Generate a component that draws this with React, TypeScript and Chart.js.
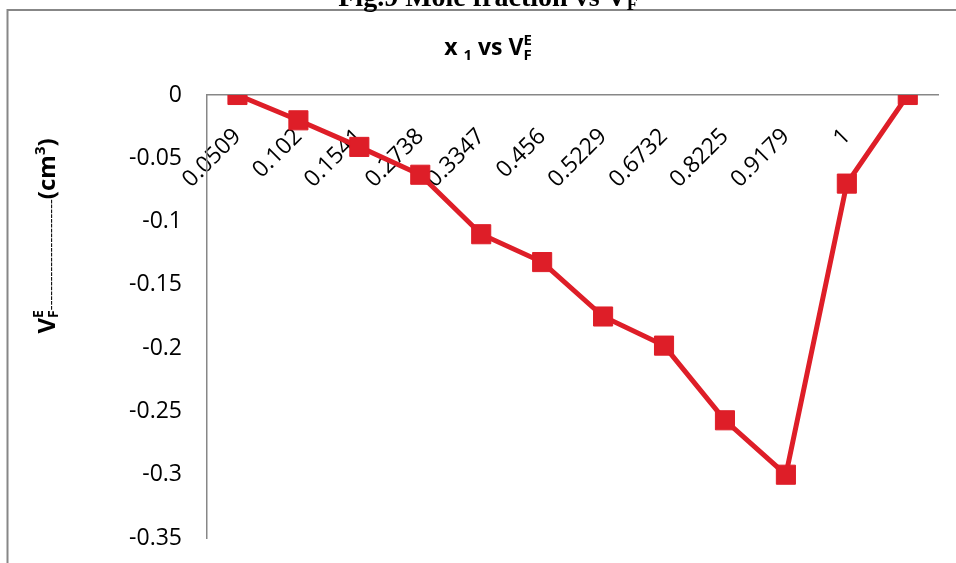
import React, { useEffect, useRef } from 'react';
import { Chart, registerables } from 'chart.js';

Chart.register(...registerables);

const categories = ['0.0509', '0.102', '0.1541', '0.2738', '0.3347', '0.456', '0.5229', '0.6732', '0.8225', '0.9179', '1', ''];
const vfeValues = [0, -0.02, -0.041, -0.063, -0.11, -0.132, -0.175, -0.198, -0.257, -0.3, -0.07, 0];
const yMin = -0.35;
const yMax = 0;
const yStep = 0.05;

const SANS = '"Open Sans", "Noto Sans", sans-serif';
const SERIF = '"Liberation Serif", "DejaVu Serif", serif';
const RED = '#DE1E28';
const GRAY = '#878787';

type Part = { text: string; size: number; dy: number; family: string; weight: string; stack?: boolean };

function drawRich(ctx: CanvasRenderingContext2D, parts: Part[], cx: number, baseline: number) {
  const widths = parts.map((p) => {
    ctx.font = `${p.weight} ${p.size}px ${p.family}`;
    return ctx.measureText(p.text).width;
  });
  let total = 0;
  parts.forEach((p, i) => {
    if (p.stack && i > 0) {
      total += Math.max(0, widths[i] - widths[i - 1]);
    } else {
      total += widths[i];
    }
  });
  let x = cx - total / 2;
  let prevX = x;
  ctx.textAlign = 'left';
  ctx.textBaseline = 'alphabetic';
  parts.forEach((p, i) => {
    ctx.font = `${p.weight} ${p.size}px ${p.family}`;
    if (p.stack && i > 0) {
      ctx.fillText(p.text, prevX, baseline + p.dy);
      x = prevX + Math.max(widths[i], widths[i - 1]);
    } else {
      ctx.fillText(p.text, x, baseline + p.dy);
      prevX = x;
      x += widths[i];
    }
  });
}

const textPlugin = {
  id: 'richText',
  beforeDraw(chart: any) {
    const ctx = chart.ctx as CanvasRenderingContext2D;
    ctx.save();
    ctx.strokeStyle = GRAY;
    ctx.lineWidth = 2;
    ctx.beginPath();
    ctx.moveTo(7.5, 563);
    ctx.lineTo(7.5, 10);
    ctx.lineTo(956, 10);
    ctx.stroke();
    ctx.restore();
  },
  afterDraw(chart: any) {
    const ctx = chart.ctx as CanvasRenderingContext2D;
    ctx.save();
    ctx.fillStyle = '#000';
    // cropped figure caption
    drawRich(
      ctx,
      [
        { text: 'Fig.9 Mole fraction vs V', size: 28, dy: 0, family: SERIF, weight: 'bold' },
        { text: 'F', size: 18, dy: 4, family: SERIF, weight: 'bold' },
      ],
      488,
      6
    );
    // chart title
    drawRich(
      ctx,
      [
        { text: 'x ', size: 23, dy: 0, family: SANS, weight: 'bold' },
        { text: '1', size: 15, dy: 5, family: SANS, weight: 'bold' },
        { text: ' vs V', size: 23, dy: 0, family: SANS, weight: 'bold' },
        { text: 'F', size: 15, dy: 5, family: SANS, weight: 'bold' },
        { text: 'E', size: 15, dy: -10, family: SANS, weight: 'bold', stack: true },
      ],
      488,
      55
    );
    // y axis title
    ctx.translate(55, 236);
    ctx.rotate(-Math.PI / 2);
    drawRich(
      ctx,
      [
        { text: 'V', size: 24, dy: 0, family: SANS, weight: 'bold' },
        { text: 'F', size: 14, dy: 3, family: SANS, weight: 'bold' },
        { text: 'E', size: 14, dy: -12, family: SANS, weight: 'bold', stack: true },
        { text: '-----------------------', size: 15, dy: 1, family: SANS, weight: 'normal' },
        { text: '(cm', size: 24, dy: 0, family: SANS, weight: 'bold' },
        { text: '3', size: 15, dy: -10, family: SANS, weight: 'bold' },
        { text: ')', size: 24, dy: 0, family: SANS, weight: 'bold' },
      ],
      0,
      0
    );
    ctx.restore();
  },
};

export default function App() {
  const ref = useRef<HTMLCanvasElement | null>(null);

  useEffect(() => {
    if (!ref.current) return;
    const chart = new Chart(ref.current, {
      type: 'line',
      data: {
        labels: categories,
        datasets: [
          {
            data: vfeValues,
            borderColor: RED,
            backgroundColor: RED,
            borderWidth: 5,
            pointStyle: 'rect',
            pointRadius: 13.5,
            pointBorderWidth: 1,
            pointBackgroundColor: RED,
            pointBorderColor: RED,
            tension: 0,
          },
        ],
      },
      options: {
        animation: false,
        responsive: false,
        maintainAspectRatio: false,
        layout: { padding: { left: 0, top: 95, right: 17, bottom: 25 } },
        plugins: {
          legend: { display: false },
          title: { display: false },
          tooltip: { enabled: false },
        },
        scales: {
          x: {
            type: 'category',
            position: { y: 0 } as any,
            offset: true,
            grid: { display: false, drawTicks: false },
            border: { display: true, color: GRAY, width: 1.5 },
            ticks: {
              autoSkip: false,
              minRotation: 45,
              maxRotation: 45,
              padding: 28,
              color: '#000',
              font: { family: SANS, size: 23 },
            },
            afterFit: (s: any) => {
              s.paddingTop = 0;
              s.paddingBottom = 0;
            },
          },
          y: {
            min: yMin,
            max: yMax,
            grid: { display: false, drawTicks: false },
            border: { display: true, color: GRAY, width: 1.5 },
            ticks: {
              stepSize: yStep,
              padding: 25,
              color: '#000',
              font: { family: SANS, size: 23 },
              callback: (v: any) => String(Math.round(Number(v) * 100) / 100),
            },
            afterFit: (s: any) => {
              s.width = 207;
              s.paddingTop = 0;
              s.paddingBottom = 0;
            },
          },
        },
      },
      plugins: [textPlugin],
    });
    return () => chart.destroy();
  }, []);

  return (
    <div style={{ position: 'fixed', left: 0, top: 0, width: 956, height: 563, background: '#fff' }}>
      <canvas ref={ref} width={956} height={563} style={{ display: 'block' }} />
    </div>
  );
}
